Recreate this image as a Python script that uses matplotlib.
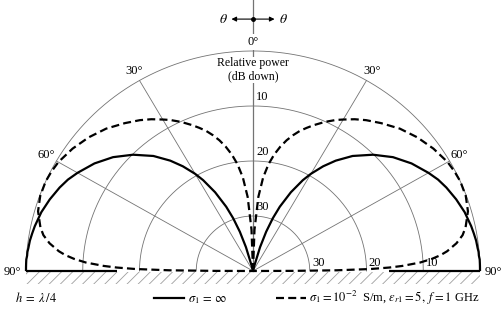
import numpy as np
import matplotlib
matplotlib.use("Agg")
import matplotlib.pyplot as plt
from matplotlib.lines import Line2D
from matplotlib.patches import Rectangle

plt.rcParams['font.family'] = ['Liberation Serif', 'DejaVu Serif']
plt.rcParams['mathtext.fontset'] = 'stix'
plt.rcParams['hatch.linewidth'] = 0.6

# ---- data (angle from vertical in degrees, relative power in dB) ----
angles = [0, 2, 4, 6, 8, 10, 12, 14, 16, 18, 20, 22, 25, 28, 30, 33, 36, 40, 45,
          50, 55, 60, 63, 66, 70, 74, 78, 80, 82, 84, 85, 86, 87, 88, 88.5, 89,
          89.5, 89.8, 90]
pec_db = [-99, -89.5, -71.5, -60.9, -53.4, -47.7, -42.9, -39.0, -35.5, -32.5,
          -29.8, -27.4, -24.2, -21.3, -19.6, -17.3, -15.2, -12.7, -10.1,
          -7.8, -5.9, -4.3, -3.4, -2.7, -1.9, -1.2, -0.7, -0.5, -0.3, -0.2,
          -0.1, -0.1, 0.0, 0.0, 0.0, 0.0, 0.0, 0.0, 0.0]
lossy_db = [-99, -32.5, -26.5, -22.9, -20.4, -18.5, -16.9, -15.5, -14.3, -13.2,
            -12.3, -11.4, -10.1, -8.9, -8.2, -7.1, -6.1, -4.9, -3.4,
            -2.2, -1.2, -0.4, -0.15, 0.0, -0.1, -0.6, -1.7, -2.5, -3.8, -5.6,
            -6.8, -8.4, -10.5, -13.7, -16.0, -19.3, -25.2, -33.0, -99]
ring_db = [0, 10, 20, 30]          # dB down
ring_labels = ["10", "20", "30"]
spoke_angles = [30, 60]
angle_labels = [0, 30, 60, 90]
db_range = 40.0

label_solid = r"$\sigma_1\,=\,\infty$"
label_dashed = r"$\sigma_1 = 10^{-2}$  S/m, $\varepsilon_{r1} = 5,\ f = 1$ GHz"
label_h = r"$h\;=\;\lambda\,/4$"

def rad(db):
    return np.clip(1 + np.asarray(db, float) / db_range, 0, 1)

fig = plt.figure(figsize=(5.04, 3.13), dpi=100)
ax = fig.add_axes([0, 0, 1, 1])
ax.set_xlim(-1.1145, 1.1057)
ax.set_ylim(-0.1909, 1.2318)
ax.axis('off')

gcol = '0.45'
glw = 0.6
# rings
phi = np.radians(np.linspace(-90, 90, 721))
for d in ring_db:
    r = rad(-d)
    ax.plot(r * np.sin(phi), r * np.cos(phi), color=gcol, lw=glw, zorder=1)
# spokes
for a in spoke_angles:
    for s in (-1, 1):
        t = np.radians(s * a)
        ax.plot([0, np.sin(t)], [0, np.cos(t)], color=gcol, lw=glw, zorder=1)
# vertical axis line
ax.plot([0, 0], [0, 1.2318], color=gcol, lw=0.9, zorder=1)

# angle labels
for a in angle_labels:
    if a == 0:
        ax.text(0, 1.04, "0°", ha='center', va='center', fontsize=9, zorder=3,
                bbox=dict(facecolor='white', edgecolor='none', pad=1.5))
        continue
    rl = 1.05 if a < 90 else 1.058
    for s in (-1, 1):
        t = np.radians(s * a)
        ax.text(rl * np.sin(t), rl * np.cos(t) - (0.005 if a == 90 else 0),
                f"{a}°", ha='center', va='center', fontsize=9, zorder=3)

# dB labels
for d, lab in zip(ring_db[1:], ring_labels):
    r = rad(-d)
    ax.text(0.014, r + 0.012, lab, ha='left', va='bottom', fontsize=9, zorder=3)
    ax.text(r + 0.01, 0.01, lab, ha='left', va='bottom', fontsize=9, zorder=3)

ax.text(0, 0.914, "Relative power\n(dB down)", ha='center', va='center',
        fontsize=8.5, linespacing=1.15, zorder=3,
        bbox=dict(facecolor='white', edgecolor='none', pad=0.5))

# theta arrows
ya = 1.145
for s in (-1, 1):
    ax.annotate('', xy=(s * 0.095, ya), xytext=(0, ya),
                arrowprops=dict(arrowstyle='-|>', color='k', lw=0.8,
                                mutation_scale=7, shrinkA=0, shrinkB=0), zorder=3)
    ax.text(s * 0.132, ya, r"$\theta$", ha='center', va='center', fontsize=10)
ax.plot([0], [ya], 'o', color='k', ms=2.5, zorder=4)

# pattern curves
th = np.radians(angles)
rp = rad(pec_db)
rl_ = rad(lossy_db)
lw = 1.6
dash = (3.6, 1.9)
for s in (-1, 1):
    ax.plot(s * rp * np.sin(th), rp * np.cos(th), color='k', lw=lw,
            solid_capstyle='butt', zorder=4)
    ax.plot(s * rl_ * np.sin(th), rl_ * np.cos(th), color='k', lw=lw,
            dashes=dash, zorder=4)

# ground: solid where the dashed curve has not yet come down to it
yl = rl_ * np.cos(th)
touch = rl_[np.argmax((yl < 0.02) & (th > 1))]
for s in (-1, 1):
    ax.plot([s * 1.0, s * touch], [0, 0], color='k', lw=lw,
            solid_capstyle='butt', zorder=4)
ax.add_patch(Rectangle((-1.0, -0.058), 2.0, 0.055, facecolor='none',
                       edgecolor='0.62', hatch='///', lw=0, zorder=0))

# legend
ax.text(-1.048, -0.123, label_h, ha='left', va='center', fontsize=9)
handles = [Line2D([], [], color='k', lw=lw),
           Line2D([], [], color='k', lw=lw, dashes=dash)]
ax.legend(handles, [label_solid, label_dashed], ncol=2, loc='center left',
          bbox_to_anchor=(-0.436, -0.123), bbox_transform=ax.transData,
          frameon=False, fontsize=9, handlelength=2.4, handletextpad=0.3,
          columnspacing=3.9, borderpad=0, borderaxespad=0)

fig.savefig("out.png", dpi=100)
